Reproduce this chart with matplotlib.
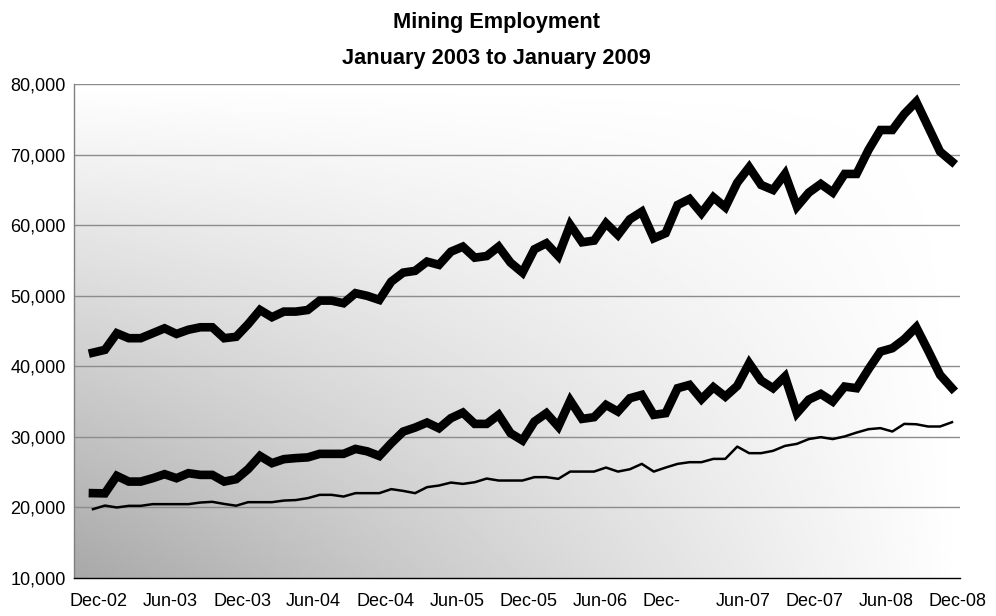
import numpy as np
import matplotlib
matplotlib.use("Agg")
import matplotlib.pyplot as plt
from matplotlib.ticker import FuncFormatter
from matplotlib.transforms import ScaledTranslation

plt.rcParams['font.family'] = ['Liberation Sans', 'DejaVu Sans']

title = "Mining Employment\nJanuary 2003 to January 2009"

tick_labels = ["Dec-02", "Jun-03", "Dec-03", "Jun-04", "Dec-04", "Jun-05", "Dec-05",
               "Jun-06", "Dec-", "Jun-07", "Dec-07", "Jun-08", "Dec-08"]

series_top = [41950, 42350, 44700, 44000, 44000, 44700, 45400, 44600, 45200, 45550, 45550, 44000,
              44200, 45980, 48000, 46980, 47770, 47770, 48000, 49330, 49330, 48960, 50380, 50000,
              49430, 52020, 53300, 53550, 54860, 54400, 56270, 56980, 55420, 55650, 56980, 54710,
              53300, 56610, 57460, 55660, 60060, 57600, 57840, 60300, 58640, 60870, 61940, 58170,
              58900, 62890, 63740, 61720, 63980, 62570, 66050, 68240, 65730, 65020, 67290, 62650,
              64650, 65870, 64660, 67290, 67290, 70690, 73520, 73520, 75790, 77530, 73990, 70450, 69030]

series_mid = [22030, 22000, 24480, 23670, 23670, 24150, 24720, 24150, 24860, 24620, 24620, 23670,
              24010, 25430, 27300, 26280, 26850, 27000, 27100, 27600, 27600, 27600, 28300, 27950,
              27300, 29110, 30760, 31330, 32040, 31230, 32660, 33450, 31850, 31850, 33130, 30530,
              29500, 32180, 33370, 31470, 35150, 32560, 32800, 34540, 33600, 35490, 35960, 33130,
              33370, 36910, 37380, 35350, 37050, 35720, 37240, 40450, 37990, 36910, 38560, 33370,
              35300, 36100, 35020, 37140, 36910, 39600, 42100, 42580, 43860, 45560, 42240, 38800, 36910]

series_low = [19760, 20270, 20000, 20230, 20230, 20470, 20470, 20470, 20470, 20700, 20800, 20500,
              20250, 20750, 20750, 20750, 20980, 21050, 21320, 21790, 21790, 21550, 22030, 22030,
              22030, 22600, 22350, 22030, 22880, 23110, 23530, 23340, 23580, 24100, 23820, 23820,
              23820, 24300, 24300, 24060, 25090, 25090, 25090, 25660, 25090, 25420, 26180, 25090,
              25660, 26180, 26420, 26420, 26890, 26890, 28630, 27700, 27700, 28030, 28730, 29020,
              29700, 29970, 29700, 30070, 30620, 31100, 31250, 30770, 31850, 31800, 31480, 31480, 32090]

x = np.arange(len(series_top))

fig = plt.figure(figsize=(9.96, 6.16), dpi=100)
ax = fig.add_axes([74/996, 1-578/616, (960-74)/996, (578-84.3)/616])

# gradient background (dark bottom-left -> white top-right)
u = np.linspace(0, 1, 300)
v = np.linspace(0, 1, 200)
U, V = np.meshgrid(u, v)
C = 1 - 0.34 * (1 - U) * (1 - V)
ax.imshow(C, extent=[0, 1, 0, 1], origin='lower', transform=ax.transAxes,
          cmap='gray', vmin=0, vmax=1, aspect='auto', zorder=0, interpolation='bilinear')

ax.set_ylim(10000, 80000)
ax.set_xlim(-1.59, 72.67)
ax.set_yticks(np.arange(10000, 80001, 10000))
ax.yaxis.set_major_formatter(FuncFormatter(lambda val, p: f"{int(val):,}"))
for yv in np.arange(20000, 80001, 10000):
    ax.axhline(yv, color='#8c8c8c', lw=1.0, zorder=1)

ax.plot(x, series_top, color='black', lw=6.2, zorder=3, solid_joinstyle='miter')
ax.plot(x, series_mid, color='black', lw=6.2, zorder=3, solid_joinstyle='miter')
ax.plot(x, series_low, color='black', lw=1.8, zorder=3)

ax.set_xticks(np.arange(0, 73, 6) + 0.5)
ax.set_xticklabels(tick_labels)
ax.tick_params(axis='both', length=0, labelsize=13, colors='black')
ax.tick_params(axis='x', pad=11)
ax.tick_params(axis='y', pad=6)
lab = ax.get_xticklabels()[8]
lab.set_transform(lab.get_transform() + ScaledTranslation(-10/100, 0, fig.dpi_scale_trans))

for s in ['top', 'right']:
    ax.spines[s].set_visible(False)
ax.spines['left'].set_color('#808080')
ax.spines['left'].set_linewidth(1.0)
ax.spines['bottom'].set_color('black')
ax.spines['bottom'].set_linewidth(1.0)
ax.spines['bottom'].set_zorder(4)

fig.text(0.4985, 1 - 40.5/616, title, ha='center', va='center', fontsize=15.7,
         fontweight='bold', linespacing=1.9)

fig.savefig("out.png", dpi=100)
